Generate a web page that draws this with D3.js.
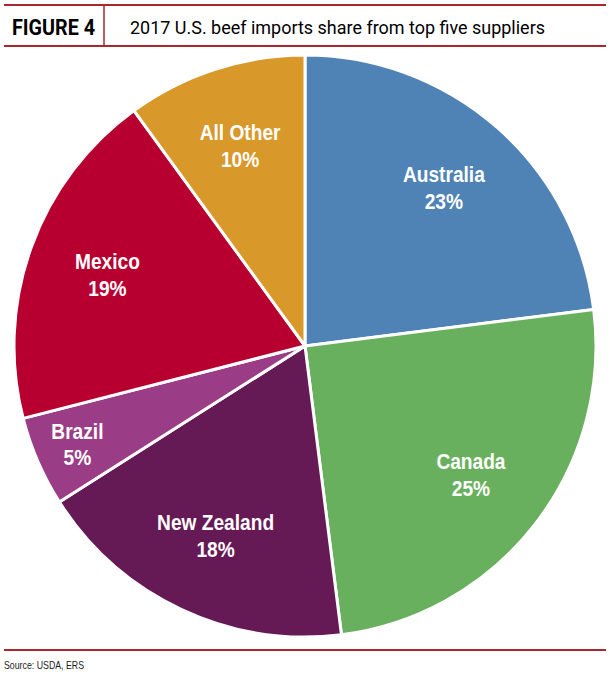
<!DOCTYPE html>
<html>
<head>
<meta charset="utf-8">
<script src="https://cdn.jsdelivr.net/npm/d3@7"></script>
<style>
  body { margin: 0; background: #fff; }
  svg { display: block; }
</style>
</head>
<body>
<div id="viz"></div>
<script>
const suppliers = ["Australia", "Canada", "New Zealand", "Brazil", "Mexico", "All Other"];
const shares = [23, 25, 18, 5, 19, 10];
const colors = ["#4f82b5", "#69b05e", "#661a55", "#9b3c87", "#b7002f", "#d8982a"];

const width = 610;
const height = 675;
const red = "#a8282e";

const svg = d3.select("#viz").append("svg")
    .attr("width", width)
    .attr("height", height);

// header rules
svg.append("line")
    .attr("x1", 4).attr("x2", 606)
    .attr("y1", 5).attr("y2", 5)
    .style("stroke", red).style("stroke-width", 2);
svg.append("line")
    .attr("x1", 4).attr("x2", 606)
    .attr("y1", 46).attr("y2", 46)
    .style("stroke", red).style("stroke-width", 2);
svg.append("line")
    .attr("x1", 104).attr("x2", 104)
    .attr("y1", 5).attr("y2", 46)
    .style("stroke", red).style("stroke-width", 1.5);

svg.append("text")
    .attr("x", 12)
    .attr("y", 35)
    .style("font-family", "Roboto, 'Liberation Sans'")
    .style("font-weight", 700)
    .style("font-size", "22px")
    .attr("textLength", 83)
    .attr("lengthAdjust", "spacingAndGlyphs")
    .text("FIGURE 4");

svg.append("text")
    .attr("x", 130)
    .attr("y", 34)
    .style("font-family", "Roboto, 'Liberation Sans'")
    .style("font-size", "19px")
    .attr("textLength", 415)
    .attr("lengthAdjust", "spacingAndGlyphs")
    .text("2017 U.S. beef imports share from top five suppliers");

// pie
const cx = 305, cy = 346, radius = 291;

const data = suppliers.map((name, i) => ({ name, value: shares[i], color: colors[i] }));

const pie = d3.pie()
    .sort(null)
    .value(d => d.value);

const arc = d3.arc()
    .innerRadius(0)
    .outerRadius(radius);

const labelArc = d3.arc()
    .innerRadius(210)
    .outerRadius(210);
const smallLabelArc = d3.arc()
    .innerRadius(248)
    .outerRadius(248);

const g = svg.append("g")
    .attr("transform", `translate(${cx},${cy})`);

const arcs = pie(data);

g.selectAll(".slice")
    .data(arcs)
    .join("path")
        .attr("class", "slice")
        .attr("d", arc)
        .attr("fill", d => d.data.color)
        .style("stroke", "#fff")
        .style("stroke-width", 3)
        .style("stroke-linejoin", "round");

const labels = g.selectAll(".slice-label")
    .data(arcs)
    .join("text")
        .attr("class", "slice-label")
        .attr("transform", d => {
            const c = d.data.value < 8 ? smallLabelArc.centroid(d) : labelArc.centroid(d);
            return `translate(${c[0]},${c[1]}) scale(0.87,1)`;
        })
        .style("text-anchor", "middle")
        .style("fill", "#fff")
        .style("font-family", "'Liberation Sans', Arial")
        .style("font-weight", 700)
        .style("font-size", "22px");

labels.append("tspan")
    .attr("x", 0)
    .attr("y", -6)
    .text(d => d.data.name);
labels.append("tspan")
    .attr("x", 0)
    .attr("y", 21)
    .text(d => d.data.value + "%");

// footer
svg.append("line")
    .attr("x1", 4).attr("x2", 606)
    .attr("y1", 650).attr("y2", 650)
    .style("stroke", red).style("stroke-width", 2);

svg.append("text")
    .attr("x", 4)
    .attr("y", 669)
    .style("font-family", "'Liberation Sans', Arial")
    .style("font-size", "11.5px")
    .style("fill", "#222")
    .attr("textLength", 80)
    .attr("lengthAdjust", "spacingAndGlyphs")
    .text("Source: USDA, ERS");
</script>
</body>
</html>
